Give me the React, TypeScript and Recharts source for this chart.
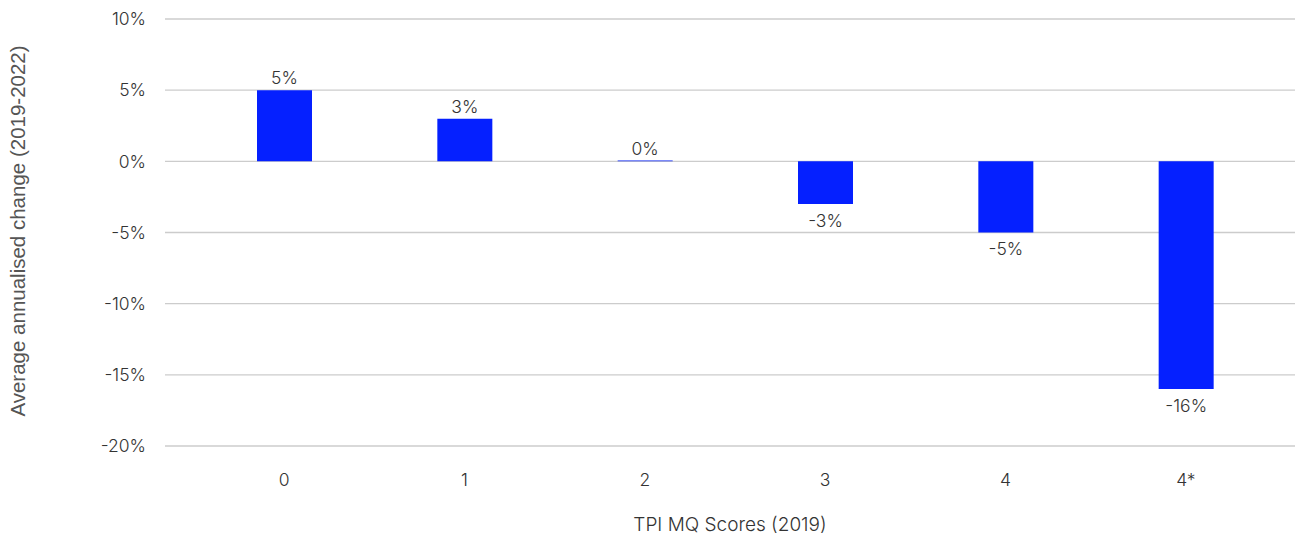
import React from 'react';
import { BarChart, Bar, XAxis, YAxis, CartesianGrid, LabelList } from 'recharts';

const categories = ['0', '1', '2', '3', '4', '4*'];
const values = [5, 3, 0.05, -3, -5, -16];
const yTicks = [-20, -15, -10, -5, 0, 5, 10];

const data = categories.map((c, i) => ({ name: c, value: values[i] }));

const FONT = 'Inter, "Noto Sans", sans-serif';
const TEXT = '#333';

const BarLabel = (props: any) => {
  const { x, y, width, height, value } = props;
  const cx = Number(x) + Number(width) / 2;
  const h = Number(height);
  const top = Math.min(Number(y), Number(y) + h);
  const bottom = Math.max(Number(y), Number(y) + h);
  const neg = value < 0;
  return (
    <text
      x={cx}
      y={neg ? bottom + 9 : top - 6}
      textAnchor="middle"
      dominantBaseline={neg ? 'hanging' : 'auto'}
      fill={TEXT}
      fontSize={17.5}
      fontWeight={300}
      fontFamily={FONT}
    >
      {`${Math.round(value)}%`}
    </text>
  );
};

const YLabel = () => {
  const cy = 231;
  const cx = 17;
  return (
    <text
      x={cx}
      y={cy}
      transform={`rotate(-90, ${cx}, ${cy})`}
      textAnchor="middle"
      dominantBaseline="central"
      fill="#555"
      fontSize={20.5}
      fontFamily={'"Liberation Sans", Arial, sans-serif'}
    >
      Average annualised change (2019-2022)
    </text>
  );
};

export default function App() {
  return (
    <div style={{ position: 'absolute', left: 0, top: 0, background: '#fff' }}>
      <BarChart
        width={1295}
        height={536}
        data={data}
        margin={{ top: 19, right: 0, bottom: 0, left: 0 }}
      >
        <CartesianGrid horizontal vertical={false} stroke="#cccccc" strokeWidth={1.3} />
        <XAxis
          dataKey="name"
          axisLine={false}
          tickLine={false}
          tickSize={0}
          tickMargin={28}
          height={90}
          padding={{ left: 29, right: 19 }}
          tick={{ fill: TEXT, fontSize: 17.5, fontFamily: FONT, fontWeight: 300 }}
          label={{
            value: 'TPI MQ Scores (2019)',
            position: 'insideBottom',
            offset: 5,
            fill: TEXT,
            fontSize: 19,
            fontWeight: 300,
            fontFamily: FONT,
          }}
        />
        <YAxis
          domain={[-20, 10]}
          ticks={yTicks}
          interval={0}
          width={165}
          axisLine={false}
          tickLine={false}
          tickSize={0}
          tickMargin={19}
          tickFormatter={(v: number) => `${v}%`}
          tick={{ fill: TEXT, fontSize: 17.5, fontFamily: FONT, fontWeight: 300 }}
          label={<YLabel />}
        />
        <Bar dataKey="value" fill="#0520FF" barSize={55} isAnimationActive={false}>
          <LabelList dataKey="value" content={<BarLabel />} />
        </Bar>
      </BarChart>
    </div>
  );
}
